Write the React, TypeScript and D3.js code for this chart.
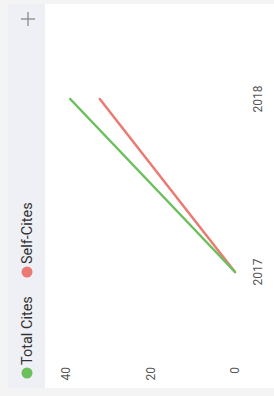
import { useEffect, useRef } from "react";
import * as d3 from "d3";

const years = ["2017", "2018"];
const totalCites = [0, 39];
const selfCites = [0, 32];
const yTicks = [0, 20, 40];
const seriesNames = ["Total Cites", "Self-Cites"];
const seriesColors = ["#6cbf5d", "#ea7b72"];

export default function App() {
  const svgRef = useRef<SVGSVGElement>(null);

  useEffect(() => {
    if (!svgRef.current) return;
    document.body.style.margin = "0";

    const width = 274;
    const height = 396;

    const svg = d3.select(svgRef.current);
    svg.selectAll("*").remove();
    svg.attr("width", width).attr("height", height);

    // Frame / backgrounds (screen coordinates)
    svg.append("rect").attr("x", 0).attr("y", 0).attr("width", width).attr("height", height).attr("fill", "#f4f4f5");
    svg.append("rect").attr("x", 8).attr("y", 4).attr("width", width - 8).attr("height", 384).attr("fill", "#ffffff");
    svg.append("rect").attr("x", 8).attr("y", 4).attr("width", 37).attr("height", 384).attr("fill", "#eef0f5");

    // "+" button
    const plus = svg.append("g").attr("stroke", "#8a8a8a").attr("stroke-width", 1.3);
    plus.append("line").attr("x1", 21).attr("x2", 35).attr("y1", 19).attr("y2", 19);
    plus.append("line").attr("x1", 28).attr("x2", 28).attr("y1", 12).attr("y2", 26);

    // The chart itself is drawn upright, then turned a quarter left
    const g = svg.append("g").attr("transform", `translate(0, ${height}) rotate(-90)`);

    const x = d3.scalePoint<string>().domain(years).range([124, 297]);
    const y = d3.scaleLinear().domain([0, 40]).range([235, 66]);

    const font = "Roboto, 'Liberation Sans', Arial, sans-serif";

    // y tick labels
    g.selectAll(".ytick")
      .data(yTicks)
      .enter()
      .append("text")
      .attr("x", 29)
      .attr("y", (d) => y(d))
      .attr("dy", "0.35em")
      .attr("text-anchor", "end")
      .attr("font-family", font)
      .attr("font-size", 12)
      .attr("fill", "#555")
      .text((d) => d);

    // x tick labels
    g.selectAll(".xtick")
      .data(years)
      .enter()
      .append("text")
      .attr("x", (d) => x(d)!)
      .attr("y", 258)
      .attr("dy", "0.35em")
      .attr("text-anchor", "middle")
      .attr("font-family", font)
      .attr("font-size", 12)
      .attr("fill", "#555")
      .text((d) => d);

    // lines (self-cites under total)
    const line = d3
      .line<number>()
      .x((_, i) => x(years[i])!)
      .y((d) => y(d));

    [selfCites, totalCites].forEach((values, k) => {
      g.append("path")
        .datum(values)
        .attr("d", line)
        .attr("fill", "none")
        .attr("stroke", seriesColors[1 - k])
        .attr("stroke-width", 2.5)
        .attr("stroke-linecap", "round");
    });

    // legend
    const legendX = [23, 124];
    seriesNames.forEach((name, i) => {
      g.append("circle")
        .attr("cx", legendX[i])
        .attr("cy", 27)
        .attr("r", 5.5)
        .attr("fill", seriesColors[i]);
      g.append("text")
        .attr("x", legendX[i] + 8)
        .attr("y", 27)
        .attr("dy", "0.35em")
        .attr("font-family", font)
        .attr("font-size", 14.5)
        .attr("fill", "#333")
        .text(name);
    });
  }, []);

  return <svg ref={svgRef} style={{ display: "block", position: "absolute", left: 0, top: 0 }}></svg>;
}
